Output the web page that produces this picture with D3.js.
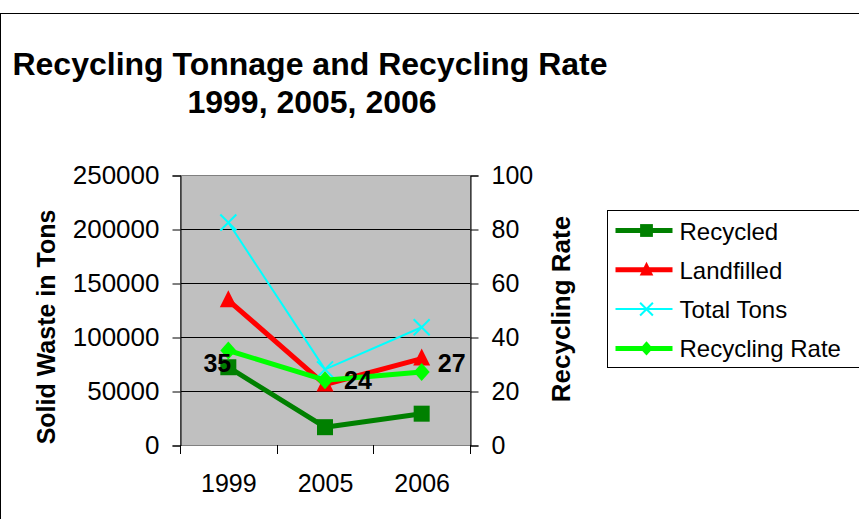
<!DOCTYPE html>
<html>
<head>
<meta charset="utf-8">
<script src="https://cdn.jsdelivr.net/npm/d3@7"></script>
<style>
  body { margin: 0; background: #fff; }
  svg { display: block; font-family: "Liberation Sans", Arial, sans-serif; }
</style>
</head>
<body>
<svg id="chart"></svg>
<script>
// Data
const years = ['1999', '2005', '2006'];
const recycled = [72000, 16500, 29000];
const landfilled = [134000, 56000, 80000];
const totalTons = [206000, 70000, 109000];
const recyclingRate = [35, 24, 27];
const leftTicks = [0, 50000, 100000, 150000, 200000, 250000];
const rightTicks = [0, 20, 40, 60, 80, 100];

const width = 859;
const height = 519;
const plot = {left: 180, right: 470, top: 175, bottom: 445};

const svg = d3.select("#chart")
    .attr("width", width)
    .attr("height", height);

// outer chart frame
svg.append("rect")
    .attr("x", 0.5).attr("y", 13.5)
    .attr("width", width + 10).attr("height", height)
    .attr("fill", "#fff")
    .attr("stroke", "#000");

// Title
svg.append("text")
    .attr("x", 310).attr("y", 75)
    .attr("text-anchor", "middle")
    .style("font-size", "32px").style("font-weight", "bold")
    .text("Recycling Tonnage and Recycling Rate");
svg.append("text")
    .attr("x", 312).attr("y", 113)
    .attr("text-anchor", "middle")
    .style("font-size", "32px").style("font-weight", "bold")
    .text("1999, 2005, 2006");

// Scales
const x = d3.scaleBand()
    .domain(years)
    .range([plot.left, plot.right]);

const y = d3.scaleLinear()
    .domain([0, 250000])
    .range([plot.bottom, plot.top]);

const y2 = d3.scaleLinear()
    .domain([0, 100])
    .range([plot.bottom, plot.top]);

// plot area
svg.append("rect")
    .attr("x", plot.left).attr("y", plot.top)
    .attr("width", plot.right - plot.left)
    .attr("height", plot.bottom - plot.top)
    .attr("fill", "#c0c0c0");

// gridlines
svg.append("g")
    .selectAll("line")
    .data(leftTicks.slice(1))
    .join("line")
    .attr("x1", plot.left).attr("x2", plot.right)
    .attr("y1", d => Math.round(y(d)) + 0.5)
    .attr("y2", d => Math.round(y(d)) + 0.5)
    .attr("stroke", "#000");

svg.append("rect")
    .attr("x", plot.left + 0.5).attr("y", plot.top + 0.5)
    .attr("width", plot.right - plot.left)
    .attr("height", plot.bottom - plot.top)
    .attr("fill", "none")
    .attr("stroke", "#808080");

// Axes
const leftAxis = svg.append("g")
    .attr("transform", `translate(${plot.left + 0.5},0.5)`)
    .call(d3.axisLeft(y).tickValues(leftTicks).tickFormat(d3.format("d")).tickSize(8).tickPadding(13));

const rightAxis = svg.append("g")
    .attr("transform", `translate(${plot.right + 0.5},0.5)`)
    .call(d3.axisRight(y2).tickValues(rightTicks).tickSize(8).tickPadding(13));

const xAxis = svg.append("g")
    .attr("transform", `translate(0.5,${plot.bottom + 0.5})`)
    .call(d3.axisBottom(x).tickSize(0).tickPadding(29));

// category separator ticks
svg.append("g")
    .selectAll("line")
    .data(years.concat(['end']))
    .join("line")
    .attr("x1", (d, i) => Math.round(plot.left + i * x.step()) + 0.5)
    .attr("x2", (d, i) => Math.round(plot.left + i * x.step()) + 0.5)
    .attr("y1", plot.bottom).attr("y2", plot.bottom + 9)
    .attr("stroke", "#000");

[leftAxis, rightAxis, xAxis].forEach(a => {
    a.select(".domain").attr("stroke", "#000");
    a.selectAll(".tick line").attr("stroke", "#000");
    a.selectAll(".tick text")
        .attr("fill", "#000")
        .style("font-size", "25px")
        .style("font-family", "'Liberation Sans', Arial, sans-serif");
});
leftAxis.selectAll(".tick text").style("font-size", "26px");
xAxis.select(".domain").remove();

// Axis titles
svg.append("text")
    .attr("transform", `translate(55,327) rotate(-90)`)
    .attr("text-anchor", "middle")
    .style("font-size", "25px").style("font-weight", "bold")
    .text("Solid Waste in Tons");
svg.append("text")
    .attr("transform", `translate(570,309) rotate(-90)`)
    .attr("text-anchor", "middle")
    .style("font-size", "26px").style("font-weight", "bold")
    .text("Recycling Rate");

// Series
const cx = d => x(d) + x.bandwidth() / 2;
const series = [
    {name: 'Recycled', values: recycled, scale: y, color: '#008000', width: 5, marker: 'square'},
    {name: 'Landfilled', values: landfilled, scale: y, color: '#ff0000', width: 5, marker: 'triangle'},
    {name: 'Total Tons', values: totalTons, scale: y, color: '#00ffff', width: 2, marker: 'x'},
    {name: 'Recycling Rate', values: recyclingRate, scale: y2, color: '#00ff00', width: 5, marker: 'diamond'}
];

function drawMarker(g, type, color, k) {
    if (type === 'square') {
        g.append("rect").attr("x", -8 * k).attr("y", -8 * k).attr("width", 16 * k).attr("height", 16 * k).attr("fill", color);
    } else if (type === 'triangle') {
        g.append("path").attr("d", `M0,${-10 * k}L${8.5 * k},${7 * k}L${-8.5 * k},${7 * k}Z`).attr("fill", color);
    } else if (type === 'x') {
        g.append("path").attr("d", `M${-8 * k},${-8 * k}L${8 * k},${8 * k}M${-8 * k},${8 * k}L${8 * k},${-8 * k}`)
            .attr("stroke", color).attr("stroke-width", 2);
    } else if (type === 'diamond') {
        g.append("path").attr("d", `M0,${-9 * k}L${8 * k},0L0,${9 * k}L${-8 * k},0Z`).attr("fill", color);
    }
}

const line = (s) => d3.line()
    .x((d, i) => cx(years[i]))
    .y(d => s.scale(d));

series.forEach(s => {
    svg.append("path")
        .datum(s.values)
        .attr("d", line(s))
        .attr("fill", "none")
        .attr("stroke", s.color)
        .attr("stroke-width", s.width)
        .attr("stroke-linejoin", "round");
    s.values.forEach((v, i) => {
        const g = svg.append("g").attr("transform", `translate(${cx(years[i])},${s.scale(v)})`);
        drawMarker(g, s.marker, s.color, 1);
    });
});

// Rate data labels
const labelOffsets = [{dx: -11, dy: 21}, {dx: 33, dy: 9}, {dx: 30, dy: 0}];
svg.append("g")
    .selectAll("text")
    .data(recyclingRate)
    .join("text")
    .attr("x", (d, i) => cx(years[i]) + labelOffsets[i].dx)
    .attr("y", (d, i) => y2(d) + labelOffsets[i].dy)
    .attr("text-anchor", "middle")
    .style("font-size", "25px").style("font-weight", "bold")
    .text(d => d);

// Legend
const legend = svg.append("g").attr("transform", "translate(607.5,210.5)");
legend.append("rect")
    .attr("width", 270).attr("height", 157)
    .attr("fill", "#fff").attr("stroke", "#000");

series.forEach((s, i) => {
    const row = legend.append("g").attr("transform", `translate(0,${20 + i * 39.3})`);
    row.append("line")
        .attr("x1", 8).attr("x2", 65)
        .attr("stroke", s.color).attr("stroke-width", s.width);
    const m = row.append("g").attr("transform", "translate(39,0)");
    drawMarker(m, s.marker, s.color, 0.8);
    row.append("text")
        .attr("x", 72).attr("y", 9)
        .style("font-size", "24px")
        .text(s.name);
});
</script>
</body>
</html>
